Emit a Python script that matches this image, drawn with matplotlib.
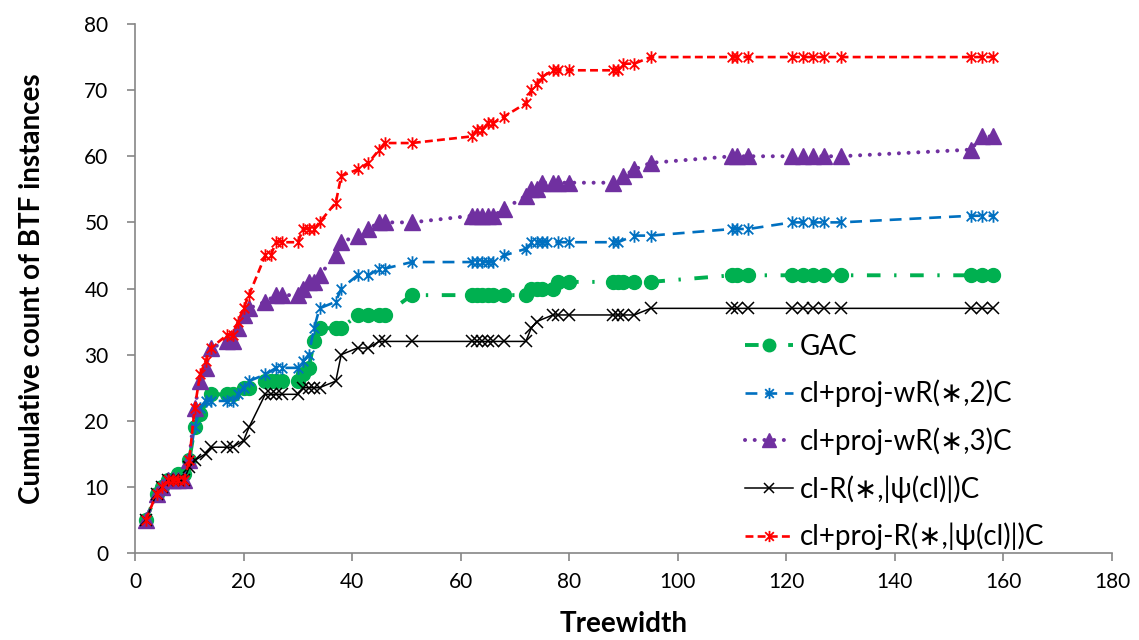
import matplotlib
matplotlib.use("Agg")
import matplotlib.pyplot as plt
from matplotlib.path import Path

plt.rcParams['font.family'] = ['Lato', 'DejaVu Sans']

# ---------------- data ----------------
gac_x = [2, 4, 5, 6, 7, 8, 9, 10, 11, 12, 14, 17, 18, 20, 21, 24, 25, 26, 27, 30, 31, 32, 33, 34,
         37, 38, 41, 43, 45, 46, 51, 62, 63, 64, 65, 66, 68, 72, 73, 74, 75, 77, 78, 80, 88, 89,
         90, 92, 95, 110, 111, 113, 121, 123, 125, 127, 130, 154, 156, 158]
gac_y = [5, 9, 10, 11, 11, 12, 12, 14, 19, 21, 24, 24, 24, 25, 25, 26, 26, 26, 26, 26, 27, 28, 32, 34,
         34, 34, 36, 36, 36, 36, 39, 39, 39, 39, 39, 39, 39, 39, 40, 40, 40, 40, 41, 41, 41, 41,
         41, 41, 41, 42, 42, 42, 42, 42, 42, 42, 42, 42, 42, 42]

wr2_x = [2, 4, 5, 6, 7, 8, 9, 10, 11, 12, 13, 14, 17, 18, 19, 20, 21, 24, 26, 27, 30, 31, 32, 33,
         34, 37, 38, 41, 43, 45, 46, 51, 62, 63, 64, 65, 66, 68, 72, 73, 74, 75, 76, 78, 80, 88,
         89, 92, 95, 110, 111, 113, 121, 123, 125, 127, 130, 154, 156, 158]
wr2_y = [5, 9, 10, 11, 11, 11, 11, 14, 19, 22, 23, 23, 23, 23, 24, 25, 26, 27, 28, 28, 28, 29, 30, 34,
         37, 38, 40, 42, 42, 43, 43, 44, 44, 44, 44, 44, 44, 45, 46, 47, 47, 47, 47, 47, 47, 47,
         47, 48, 48, 49, 49, 49, 50, 50, 50, 50, 50, 51, 51, 51]

wr3_x = [2, 4, 5, 6, 7, 8, 9, 10, 11, 12, 13, 14, 17, 18, 19, 20, 21, 24, 26, 27, 30, 31, 32, 33,
         34, 37, 38, 41, 43, 45, 46, 51, 62, 63, 64, 65, 66, 68, 72, 73, 74, 75, 77, 78, 80, 88,
         90, 92, 95, 110, 111, 113, 121, 123, 125, 127, 130, 154, 156, 158]
wr3_y = [5, 9, 10, 11, 11, 11, 11, 14, 22, 26, 28, 31, 32, 32, 34, 36, 37, 38, 39, 39, 39, 40, 41, 41,
         42, 45, 47, 48, 49, 50, 50, 50, 51, 51, 51, 51, 51, 52, 54, 55, 55, 56, 56, 56, 56, 56,
         57, 58, 59, 60, 60, 60, 60, 60, 60, 60, 60, 61, 63, 63]

clr_x = [2, 4, 5, 6, 7, 8, 9, 10, 11, 13, 14, 17, 18, 20, 21, 24, 25, 26, 27, 30, 31, 32, 33, 34,
         37, 38, 41, 43, 45, 46, 51, 62, 63, 64, 65, 66, 68, 72, 73, 74, 77, 78, 80, 88, 89, 90,
         92, 95, 110, 111, 113, 121, 123, 125, 127, 130, 154, 156, 158]
clr_y = [5, 9, 10, 11, 11, 11, 11, 13, 14, 15, 16, 16, 16, 17, 19, 24, 24, 24, 24, 24, 25, 25, 25, 25,
         26, 30, 31, 31, 32, 32, 32, 32, 32, 32, 32, 32, 32, 32, 34, 35, 36, 36, 36, 36, 36, 36,
         36, 37, 37, 37, 37, 37, 37, 37, 37, 37, 37, 37, 37]

pr_x = [2, 4, 5, 6, 7, 8, 9, 10, 11, 12, 13, 14, 17, 18, 19, 20, 21, 24, 25, 26, 27, 30, 31, 32,
        33, 34, 37, 38, 41, 43, 45, 46, 51, 62, 63, 64, 65, 66, 68, 72, 73, 74, 75, 77, 78, 80,
        88, 89, 90, 92, 95, 110, 111, 113, 121, 123, 125, 127, 130, 154, 156, 158]
pr_y = [5, 9, 10, 11, 11, 11, 11, 14, 22, 27, 29, 31, 33, 33, 35, 37, 39, 45, 45, 47, 47, 47, 49, 49,
        49, 50, 53, 57, 58, 59, 61, 62, 62, 63, 64, 64, 65, 65, 66, 68, 70, 71, 72, 73, 73, 73,
        73, 73, 74, 74, 75, 75, 75, 75, 75, 75, 75, 75, 75, 75, 75, 75]

labels = ["GAC", "cl+proj-wR(\u2217,2)C", "cl+proj-wR(\u2217,3)C",
          "cl-R(\u2217,|\u03c8(cl)|)C", "cl+proj-R(\u2217,|\u03c8(cl)|)C"]

x_ticks = [0, 20, 40, 60, 80, 100, 120, 140, 160, 180]
y_ticks = [0, 10, 20, 30, 40, 50, 60, 70, 80]

# asterisk marker (x plus vertical bar), like Excel's star marker
ast = Path([(-1, -1), (1, 1), (-1, 1), (1, -1), (0, -1.3), (0, 1.3)],
           [Path.MOVETO, Path.LINETO, Path.MOVETO, Path.LINETO, Path.MOVETO, Path.LINETO])

fig = plt.figure(figsize=(11.39, 6.40), dpi=100)
ax = fig.add_axes([0.1185, 0.1359, 0.8578, 0.8266])

h1, = ax.plot(gac_x, gac_y, color='#00B050', lw=2.8, linestyle=(0, (3.5, 3.5, 0.6, 3.5)),
              marker='o', ms=10, mec='#00B050', mfc='#00B050', zorder=3, label=labels[0])
h2, = ax.plot(wr2_x, wr2_y, color='#0070C0', lw=1.9, linestyle=(0, (4.5, 3)),
              marker=ast, ms=9, mew=1.3, mec='#0070C0', fillstyle='none', zorder=4, label=labels[1])
h3, = ax.plot(wr3_x, wr3_y, color='#7030A0', lw=2.9, linestyle=(0, (0.01, 2.4)),
              dash_capstyle='round', marker='^', ms=11, mec='#7030A0', mfc='#7030A0',
              zorder=5, label=labels[2])
h4, = ax.plot(clr_x, clr_y, color='black', lw=1.1, linestyle='-',
              marker='x', ms=8.5, mew=1.1, zorder=6, label=labels[3])
h5, = ax.plot(pr_x, pr_y, color='#FF0000', lw=1.9, linestyle=(0, (3, 1.6)),
              marker=ast, ms=9, mew=1.3, mec='#FF0000', fillstyle='none', zorder=7, label=labels[4])

ax.set_xlim(0, 180)
ax.set_ylim(0, 80)
ax.set_xticks(x_ticks)
ax.set_yticks(y_ticks)

for s in ['top', 'right']:
    ax.spines[s].set_visible(False)
for s in ['left', 'bottom']:
    ax.spines[s].set_color('#868686')
    ax.spines[s].set_linewidth(1.2)
ax.tick_params(axis='both', colors='#868686', labelcolor='black', labelsize=15,
               length=6, width=1.2, direction='out')
ax.tick_params(axis='x', pad=8)
ax.tick_params(axis='y', pad=13)

ax.set_xlabel("Treewidth", fontsize=20, fontweight='bold', labelpad=13)
ax.set_ylabel("Cumulative count of BTF instances", fontsize=20, fontweight='bold', labelpad=28)

leg = ax.legend(handles=[h1, h2, h3, h4, h5], loc='lower left', bbox_to_anchor=(0.622, 0.0),
                frameon=False, fontsize=20, handlelength=1.7, handletextpad=0.25,
                labelspacing=0.72, borderpad=0, borderaxespad=0.1, markerscale=0.9)

fig.savefig("out.png", dpi=100)
